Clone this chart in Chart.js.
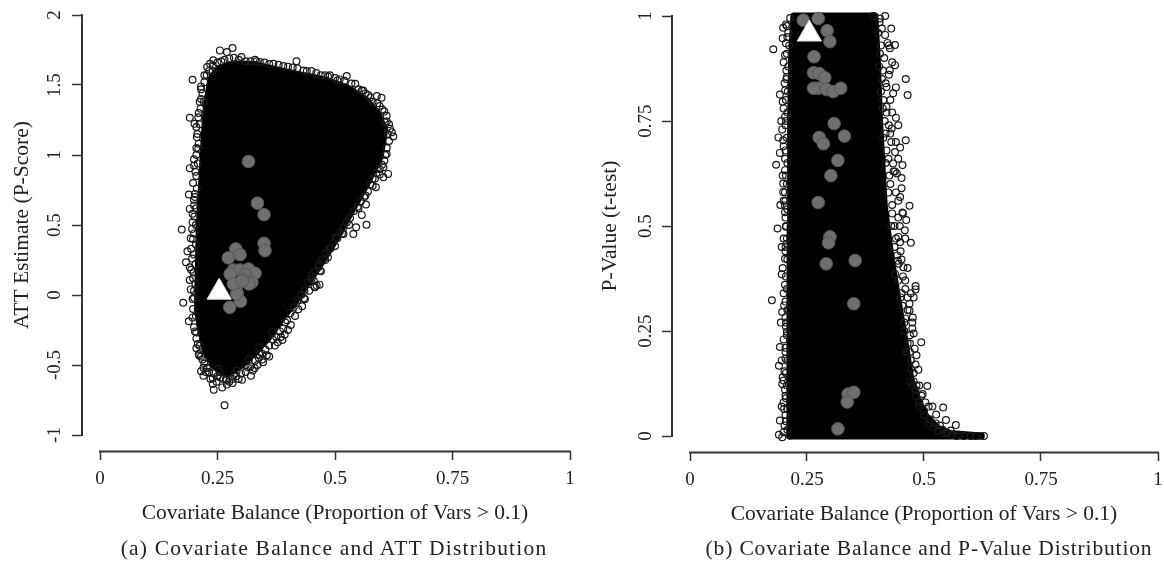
<!DOCTYPE html>
<html>
<head>
<meta charset="utf-8">
<script src="https://cdn.jsdelivr.net/npm/chart.js@4"></script>
<style>
  html, body { margin: 0; padding: 0; background: #fff; overflow: hidden; }
  #page { position: relative; width: 1164px; height: 562px; overflow: hidden; filter: blur(0.45px); }
  canvas { position: absolute; top: 0; }
  .caption { position: absolute; top: 536px; font: 21.5px "Liberation Serif", serif; letter-spacing: 1.2px; color: #222; white-space: nowrap; transform: translateX(-50%); }
</style>
</head>
<body>
<div id="page">
  <div style="position:absolute;left:0;top:0;width:604px;height:562px"><canvas id="chartA"></canvas></div>
  <div style="position:absolute;left:590px;top:0;width:602px;height:562px"><canvas id="chartB"></canvas></div>
  <div class="caption" style="left:334px">(a) Covariate Balance and ATT Distribution</div>
  <div class="caption" style="left:929px;letter-spacing:0.85px">(b) Covariate Balance and P-Value Distribution</div>
</div>
<script>
const xTicks = [0, 0.25, 0.5, 0.75, 1];
const yTicksA = [-1, -0.5, 0, 0.5, 1, 1.5, 2];
const yTicksB = [0, 0.25, 0.5, 0.75, 1];
const xTitle = "Covariate Balance (Proportion of Vars > 0.1)";

// panel (a): solid mass outline, upper and lower edge
const upperA = [[.203,-.1],[.205,.2],[.207,.5],[.212,.8],[.217,1.1],[.222,1.35],[.232,1.55],[.25,1.63],[.285,1.665],[.33,1.66],[.38,1.62],[.43,1.585],[.48,1.55],[.53,1.49],[.57,1.40],[.595,1.30],[.61,1.18]];
const lowerA = [[.203,-.1],[.21,-.25],[.22,-.4],[.24,-.52],[.27,-.58],[.30,-.52],[.33,-.43],[.36,-.32],[.39,-.18],[.42,-.05],[.45,.1],[.48,.25],[.51,.42],[.54,.6],[.57,.78],[.60,.98],[.61,1.18]];
// runs whose circles stand clear of the mass
const strayA = [[.282,1.764],[.255,1.747],[.270,1.735],[.301,1.700],[.241,1.676],[.234,1.652],[.228,1.628],[.197,1.538],[.215,1.490],[.222,1.569],[.221,1.378],[.191,1.266],[.201,1.223],[.206,1.128],[.209,1.044],[.191,.906],[.200,.925],[.189,.718],[.202,.722],[.191,.615],[.200,.639],[.174,.467],[.196,.472],[.193,.405],[.186,.312],[.183,.234],[.191,.198],[.191,.107],[.418,1.669],[.369,1.652],[.333,1.669],[.433,1.604],[.525,1.564],[.479,1.569],[.489,1.569],[.505,1.533],[.543,1.509],[.557,1.461],[.571,1.426],[.589,1.421],[.599,1.409],[.601,1.325],[.606,1.235],[.617,1.187],[.621,1.163],[.624,1.132],[.610,1.008],[.603,.913],[.613,.865],[.603,.841],[.585,.830],[.587,.770],[.566,.646],[.557,.572],[.567,.501],[.545,.484],[.539,.436],[.518,.436],[.505,.405],[.491,.334],[.479,.250],[.465,.222],[.468,.174],[.450,.114],[.461,.067],[.457,.060],[.434,-.024],[.177,-.055],[.197,-.029],[.189,-.188],[.197,-.160],[.205,-.267],[.212,-.362],[.211,-.433],[.215,-.545],[.220,-.576],[.240,-.595],[.240,-.636],[.242,-.676],[.260,-.660],[.282,-.629],[.302,-.605],[.265,-.788],[.321,-.576],[.329,-.521],[.347,-.481],[.315,-.517],[.317,-.457],[.339,-.426],[.378,-.338],[.388,-.321],[.393,-.283],[.406,-.214],[.422,-.102],[.436,-.031],[.457,.055],[.467,.074],[.367,-.267],[.394,-.195],[.269,-.607],[.291,-.540],[.252,-.529],[.228,-.521],[.339,-.374]];
const edgeA = [[.205,1.2],[.21,1.3],[.215,1.4],[.205,1.05],[.20,.97],[.205,.85],[.198,.8],[.2,.68],[.197,.58],[.197,.52],[.198,.4],[.194,.33],[.196,.26],[.194,.18],[.198,.12],[.193,.04],[.198,-.1],[.2,-.23],[.205,-.31],[.215,-.44],[.222,-.49],[.232,-.55],[.25,-.58],[.262,-.6],[.275,-.62],[.24,1.6],[.25,1.66],[.265,1.68],[.285,1.695],[.31,1.67],[.33,1.68],[.35,1.66],[.38,1.645],[.40,1.63],[.42,1.62],[.45,1.6],[.47,1.57],[.50,1.55],[.52,1.53],[.55,1.47],[.565,1.44],[.58,1.38],[.595,1.35],[.61,1.28],[.615,1.22],[.615,1.1],[.61,1.05],[.605,.96],[.595,.9],[.58,.83],[.57,.74],[.555,.67],[.54,.6],[.525,.52],[.51,.45],[.495,.37],[.48,.3],[.465,.2],[.45,.14],[.435,.03],[.42,-.04],[.405,-.13],[.39,-.24],[.375,-.3],[.36,-.36],[.345,-.42],[.33,-.47],[.31,-.55],[.29,-.58],
  [.2,-.02],[.204,-.15],[.2,.03],[.203,.08],[.199,.16],[.203,.22],[.2,.29],[.204,.36],[.2,.44],[.204,.5],[.201,.56],[.205,.62],[.202,.7],[.206,.76],[.203,.88],[.208,.94],[.205,1.0],[.21,1.08],[.207,1.15],[.212,1.22],[.209,1.27],[.214,1.33],[.212,1.38],[.218,1.44],[.215,1.47],[.222,1.52],[.227,1.57],[.232,1.6],[.24,1.64],[.258,1.67],[.275,1.69],[.295,1.68],[.32,1.67],[.34,1.665],[.36,1.65],[.39,1.635],[.41,1.625],[.44,1.6],[.46,1.585],[.485,1.56],[.51,1.54],[.535,1.51],[.56,1.46],[.575,1.41],[.59,1.37],[.605,1.31],[.61,1.24],[.612,1.15],[.607,1.0],[.6,.93],[.588,.87],[.575,.79],[.562,.7],[.548,.63],[.532,.55],[.518,.48],[.502,.41],[.487,.33],[.472,.25],[.458,.17],[.443,.09],[.428,.0],[.412,-.09],[.398,-.18],[.383,-.26],[.368,-.32],[.352,-.39],[.338,-.45],[.32,-.51],[.3,-.56],[.282,-.6],[.268,-.6],[.256,-.59],[.242,-.56],[.228,-.52],[.218,-.46],[.208,-.35],[.202,-.26],
  [.225,-.55],[.235,-.6],[.248,-.62],[.255,-.55],[.27,-.64],[.285,-.57],[.295,-.6],[.31,-.5],[.325,-.54],[.335,-.5],[.345,-.46],[.355,-.43],[.36,-.44],[.372,-.36],[.385,-.3],[.4,-.25],[.415,-.15],[.43,-.08],[.445,.03],[.455,.1],[.47,.17],[.485,.27],[.5,.35],[.515,.44],[.53,.5],[.55,.62],[.565,.71],[.58,.78],[.595,.86],[.21,-.42],[.22,-.52],[.205,-.38]];
const grayA = [[.316,.954],[.335,.656],[.349,.574],[.349,.369],[.351,.317],[.289,.329],[.298,.288],[.273,.265],[.284,.179],[.298,.179],[.316,.186],[.330,.155],[.309,.145],[.304,.107],[.323,.091],[.287,.083],[.277,.150],[.292,.012],[.291,.067],[.299,-.045],[.276,-.088],[.291,.007],[.317,.079],[.284,.079],[.303,.10]];
const triangleA = [[.2535,.02]];

// panel (b)
const upperB = [[.213,0],[.2135,.25],[.214,.5],[.215,.75],[.217,.9],[.222,1],[.395,1],[.40,.9],[.405,.75],[.415,.55],[.43,.42],[.445,.32],[.46,.22],[.471,.14],[.485,.09],[.505,.045],[.53,.018],[.555,.006],[.622,0]];
const lowerB = [[.213,0],[.622,0]];
const strayB = [[.178,.921],[.198,.947],[.199,.972],[.207,.976],[.203,.907],[.205,.935],[.192,.813],[.198,.796],[.203,.823],[.203,.760],[.207,.855],[.197,.730],[.189,.711],[.199,.704],[.192,.674],[.184,.646],[.203,.633],[.199,.601],[.199,.581],[.203,.549],[.203,.533],[.187,.494],[.205,.498],[.207,.458],[.203,.422],[.196,.385],[.417,1],[.406,.994],[.392,1],[.417,.955],[.422,.936],[.438,.931],[.427,.923],[.438,.883],[.427,.871],[.461,.850],[.465,.812],[.434,.816],[.420,.831],[.440,.758],[.420,.784],[.431,.732],[.461,.704],[.449,.687],[.438,.676],[.454,.645],[.434,.649],[.452,.614],[.442,.625],[.449,.569],[.469,.548],[.454,.532],[.462,.514],[.459,.490],[.445,.474],[.472,.460],[.449,.462],[.444,.417],[.456,.402],[.438,.386],[.175,.323],[.201,.311],[.197,.295],[.204,.283],[.207,.248],[.192,.212],[.204,.184],[.190,.167],[.202,.154],[.200,.132],[.197,.124],[.204,.096],[.201,.064],[.192,.037],[.190,.003],[.197,-.003],[.200,.009],[.482,.357],[.482,.349],[.478,.330],[.469,.315],[.469,.299],[.476,.282],[.475,.256],[.478,.244],[.494,.223],[.480,.208],[.484,.192],[.488,.158],[.507,.119],[.484,.120],[.495,.096],[.503,.080],[.518,.070],[.541,.068],[.526,.051],[.547,.038],[.568,.026],[.534,.025],[.557,.013],[.576,.003],[.628,0]];
const edgeB = [[.205,.98],[.208,.95],[.2,.89],[.206,.87],[.202,.84],[.2,.78],[.204,.74],[.2,.69],[.203,.66],[.198,.62],[.203,.58],[.2,.56],[.204,.52],[.2,.47],[.204,.44],[.198,.4],[.203,.36],[.2,.34],[.205,.27],[.2,.23],[.204,.2],[.198,.14],[.203,.11],[.2,.08],[.204,.05],[.202,.025],[.405,.985],[.41,.97],[.408,.93],[.415,.9],[.412,.87],[.418,.84],[.413,.8],[.42,.77],[.425,.74],[.418,.72],[.43,.7],[.424,.66],[.435,.63],[.428,.6],[.44,.58],[.432,.55],[.445,.52],[.437,.5],[.45,.44],[.443,.43],[.455,.38],[.46,.35],[.45,.33],[.465,.3],[.458,.27],[.47,.24],[.462,.2],[.472,.18],[.478,.15],[.47,.13],[.482,.11],[.49,.08],[.5,.06],[.512,.04],[.525,.03],[.54,.015],[.55,.008],
  [.214,.995],[.21,.96],[.212,.93],[.207,.91],[.21,.88],[.206,.85],[.209,.82],[.205,.8],[.208,.77],[.205,.75],[.207,.71],[.204,.68],[.208,.65],[.205,.62],[.207,.6],[.204,.56],[.208,.54],[.205,.5],[.207,.47],[.204,.45],[.208,.42],[.205,.38],[.207,.35],[.204,.32],[.208,.3],[.205,.26],[.207,.24],[.204,.21],[.208,.18],[.205,.15],[.207,.12],[.205,.09],[.208,.065],[.205,.035],[.208,.015],
  [.402,.96],[.406,.91],[.404,.88],[.41,.85],[.408,.82],[.412,.78],[.416,.75],[.413,.71],[.42,.68],[.418,.65],[.426,.62],[.424,.58],[.432,.53],[.43,.5],[.44,.47],[.437,.45],[.446,.41],[.445,.37],[.452,.34],[.454,.31],[.46,.28],[.458,.25],[.465,.22],[.47,.2],[.472,.16],[.476,.12],[.482,.095],[.49,.07],[.5,.05],[.51,.03],[.52,.02],[.53,.012],[.545,.006],[.56,.003],[.57,0],[.585,0],[.6,0],[.61,0],
  [.43,.97],[.425,.93],[.432,.89],[.425,.86],[.44,.83],[.428,.8],[.432,.77],[.445,.74],[.428,.72],[.44,.7],[.445,.66],[.438,.63],[.452,.59],[.445,.56],[.455,.53],[.448,.5],[.46,.47],[.452,.42],[.465,.4],[.46,.37],[.472,.34],[.465,.33],[.475,.27],[.47,.22],[.482,.17],[.478,.13],[.49,.12],[.497,.1],[.51,.07],[.195,.75],[.193,.55],[.196,.45],[.194,.27],[.196,.18],[.196,.07]];
const grayB = [[.242,.990],[.274,.994],[.293,.965],[.299,.939],[.265,.903],[.264,.865],[.276,.863],[.288,.853],[.274,.828],[.264,.828],[.292,.825],[.306,.820],[.322,.828],[.308,.744],[.330,.714],[.276,.711],[.285,.696],[.316,.656],[.301,.620],[.274,.556],[.299,.474],[.296,.460],[.291,.410],[.353,.418],[.350,.315],[.338,.100],[.350,.104],[.336,.081],[.316,.017]];
const triangleB = [[.255,.957]];

const toXY = (rows) => rows.map(([x, y]) => ({ x, y }));
const ink = "#222";

// R draws the x axis apart from the plot, only from first tick to last tick
const xAxisLine = {
  id: "xAxisLine",
  afterDraw(chart, args, opts) {
    const { ctx, scales } = chart;
    const y = Math.round(scales.y.getPixelForValue(opts.at)) + 0.5;
    ctx.save();
    ctx.strokeStyle = "#333";
    ctx.lineWidth = 2;
    ctx.beginPath();
    ctx.moveTo(scales.x.getPixelForValue(0) - 1, y);
    ctx.lineTo(scales.x.getPixelForValue(1) + 1, y);
    ctx.stroke();
    ctx.restore();
  },
};

function makeChart(id, cfg) {
  const ring = { pointRadius: 3.4, pointBackgroundColor: "transparent", pointBorderColor: "#181818", pointBorderWidth: 1.2, showLine: false, clip: false };
  return new Chart(document.getElementById(id), {
    type: "scatter",
    plugins: [xAxisLine],
    data: {
      datasets: [
        { data: toXY(cfg.triangle), pointStyle: "triangle", pointRadius: 14, pointBackgroundColor: "#fff", pointBorderColor: "#ddd", pointBorderWidth: 1, clip: false },
        { data: toXY(cfg.gray), pointRadius: 6.3, pointBackgroundColor: "#6f6f6f", pointBorderColor: "#585858", pointBorderWidth: 1, clip: false },
        { data: toXY(cfg.stray), ...ring },
        { data: toXY(cfg.edge), ...ring },
        { data: toXY(cfg.upper), showLine: true, pointRadius: 0, borderColor: "#000", backgroundColor: "#000", borderWidth: cfg.lineWidth, borderCapStyle: "round", borderJoinStyle: "round", fill: "+1", tension: 0, clip: false },
        { data: toXY(cfg.lower), showLine: true, pointRadius: 0, borderColor: "#000", borderWidth: cfg.lineWidth, borderCapStyle: "round", borderJoinStyle: "round", fill: false, tension: 0, clip: false },
      ],
    },
    options: {
      responsive: false,
      animation: false,
      events: [],
      layout: { padding: { left: 0, top: cfg.top, bottom: 562 - cfg.bottom, right: cfg.right } },
      plugins: { legend: { display: false }, tooltip: { enabled: false }, xAxisLine: { at: cfg.axisAt } },
      scales: {
        x: {
          type: "linear",
          min: cfg.xMin,
          max: cfg.xMax,
          position: { y: cfg.axisAt },
          afterBuildTicks: (s) => { s.ticks = xTicks.map((value) => ({ value })); },
          ticks: { callback: (v) => String(v), color: ink, font: { family: "Liberation Serif", size: 19 }, padding: 8, maxRotation: 0, autoSkip: false },
          grid: { drawOnChartArea: false, drawTicks: true, tickLength: 9, tickWidth: 1.5, tickColor: "#333" },
          border: { display: false },
          title: { display: true, text: xTitle, color: ink, font: { family: "Liberation Serif", size: 21.5 }, padding: 0 },
          afterFit: (s) => { s.height = 75; },
        },
        y: {
          type: "linear",
          position: "left",
          min: cfg.yTicks[0],
          max: cfg.yTicks[cfg.yTicks.length - 1],
          afterBuildTicks: (s) => { s.ticks = cfg.yTicks.map((value) => ({ value })); },
          ticks: { callback: (v) => String(v), color: ink, font: { family: "Liberation Serif", size: 19 }, padding: cfg.yPad, minRotation: 90, maxRotation: 90, crossAlign: "center", autoSkip: false },
          grid: { drawOnChartArea: false, drawTicks: true, tickLength: 10, tickWidth: 1.5, tickColor: "#333" },
          border: { display: true, color: "#333", width: 2 },
          title: { display: true, text: cfg.yTitle, color: ink, font: { family: "Liberation Serif", size: 21.5 }, padding: { top: cfg.yTitleTop, bottom: 0 } },
          afterFit: (s) => { s.width = 82; },
        },
      },
    },
  });
}

document.getElementById("chartA").width = 604;
document.getElementById("chartA").height = 562;
document.getElementById("chartB").width = 602;
document.getElementById("chartB").height = 562;

makeChart("chartA", {
  upper: upperA, lower: lowerA, stray: strayA, edge: edgeA, gray: grayA, triangle: triangleA,
  yTicks: yTicksA, yTitle: "ATT Estimate (P-Score)", top: 15, bottom: 435, right: 16,
  xMin: -18 / 470, xMax: 1 + 18 / 470, axisAt: -1.114, lineWidth: 3, yPad: 2, yTitleTop: 9,
});
makeChart("chartB", {
  upper: upperB, lower: lowerB, stray: strayB, edge: edgeB, gray: grayB, triangle: triangleB,
  yTicks: yTicksB, yTitle: "P-Value (t-test)", top: 16, bottom: 436, right: 16,
  xMin: -18 / 468, xMax: 1 + 18 / 468, axisAt: -0.038, lineWidth: 7, yPad: -1, yTitleTop: 7,
});
</script>
</body>
</html>
